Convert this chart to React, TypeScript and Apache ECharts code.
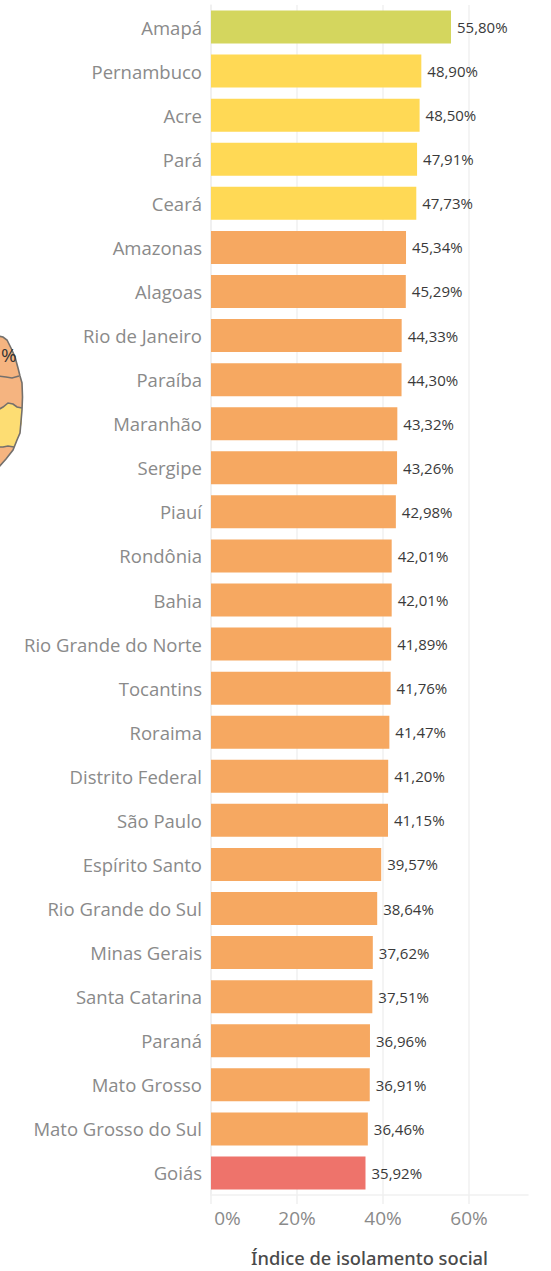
import React, { useEffect, useRef } from "react";
import * as echarts from "echarts";

const categories = ["Amapá","Pernambuco","Acre","Pará","Ceará","Amazonas","Alagoas","Rio de Janeiro","Paraíba","Maranhão","Sergipe","Piauí","Rondônia","Bahia","Rio Grande do Norte","Tocantins","Roraima","Distrito Federal","São Paulo","Espírito Santo","Rio Grande do Sul","Minas Gerais","Santa Catarina","Paraná","Mato Grosso","Mato Grosso do Sul","Goiás"];
const values = [55.80,48.90,48.50,47.91,47.73,45.34,45.29,44.33,44.30,43.32,43.26,42.98,42.01,42.01,41.89,41.76,41.47,41.20,41.15,39.57,38.64,37.62,37.51,36.96,36.91,36.46,35.92];
const GREEN = "#D4D65E", YELLOW = "#FFD955", ORANGE = "#F6A861", RED = "#EE736B";
const barColors = [GREEN,YELLOW,YELLOW,YELLOW,YELLOW,...Array(21).fill(ORANGE),RED];
const axisTicks = [0,20,40,60];

const MAP_OUTLINE = "M-2 336 L3 337 L7 340 L11 348 L15 357 L18 368 L20 376 L22 383 L22.5 397 L22 410 L20 433 L17 440 L13 450 L6 459 L-2 468 Z";
const MAP_YELLOW = "M-2 410 L3 407 L8 403 L13 404 L17 407 L22 408 L22 423 L18 437 L14 447 L8 446 L3 447 L-2 447 Z";
const LINE_1 = "M-2 376 L6 377 L12 378 L19 376";
const LINE_2 = "M-2 410 L3 407 L8 403 L13 404 L17 407 L22 408";
const LINE_3 = "M-2 447 L3 447 L8 446 L14 447";

const pct = (v: number) => v.toFixed(2).replace(".", ",") + "%";

export default function App() {
  const ref = useRef<HTMLDivElement>(null);
  useEffect(() => {
    echarts.graphic.registerShape("mapOutline", echarts.graphic.extendPath(MAP_OUTLINE, {}) as any);
    echarts.graphic.registerShape("mapYellow", echarts.graphic.extendPath(MAP_YELLOW, {}) as any);
    echarts.graphic.registerShape("mapL1", echarts.graphic.extendPath(LINE_1, {}) as any);
    echarts.graphic.registerShape("mapL2", echarts.graphic.extendPath(LINE_2, {}) as any);
    echarts.graphic.registerShape("mapL3", echarts.graphic.extendPath(LINE_3, {}) as any);
    document.body.style.margin = "0";
    const chart = echarts.init(ref.current!, undefined, { renderer: "svg" });
    const edge = { stroke: "#74706c", lineWidth: 1.6, fill: "none" };
    chart.setOption({
      animation: false,
      backgroundColor: "#fff",
      textStyle: { fontFamily: "Open Sans" },
      grid: { left: 211, top: 5, width: 317, height: 1190, containLabel: false },
      xAxis: {
        type: "value", min: 0, max: 73.7, interval: 20,
        axisLine: { show: true, lineStyle: { color: "#f1f1f1", width: 1.5 } },
        axisTick: { show: true, length: 9, customValues: axisTicks, lineStyle: { color: "#efefef", width: 1.5 } },
        splitLine: { show: true, lineStyle: { color: "#f1f1f1", width: 1.5 } },
        axisLabel: {
          margin: 13, color: "#8a8a8a", fontSize: 19, fontFamily: "Open Sans", alignMinLabel: "left",
          customValues: axisTicks,
          formatter: (v: number) => (v === 0 ? "\u2009" : "") + v + "%",
        },
        name: "Índice de isolamento social",
        nameLocation: "middle", nameGap: 53,
        nameTextStyle: { color: "#4a4a4a", fontSize: 18.3, fontWeight: 500, fontFamily: "Noto Sans" },
      },
      yAxis: {
        type: "category", inverse: true, data: categories,
        axisLine: { show: true, lineStyle: { color: "#efefef", width: 1.5 } },
        axisTick: { show: false },
        axisLabel: { margin: 9, color: "#8a8a8a", fontSize: 18.5, fontFamily: "Open Sans" },
      },
      series: [{
        type: "bar",
        data: values.map((v, i) => ({ value: v, itemStyle: { color: barColors[i] } })),
        barWidth: 33,
        label: {
          show: true, position: "right", distance: 6, color: "#3a3a3a", fontSize: 15, fontFamily: "Open Sans",
          formatter: (p: any) => pct(p.value),
        },
      }],
      graphic: [
        { type: "mapOutline", style: { fill: "#F5B480", stroke: "none" } },
        { type: "mapYellow", style: { fill: "#FDDD73", stroke: "none" } },
        { type: "mapOutline", style: edge },
        { type: "mapL1", style: edge },
        { type: "mapL2", style: edge },
        { type: "mapL3", style: edge },
        { type: "text", x: 1, y: 345, style: { text: "%", fill: "#333", fontSize: 19, fontFamily: "Open Sans" } },
      ],
    });
    return () => chart.dispose();
  }, []);
  return <div ref={ref} style={{ position: "absolute", left: 0, top: 0, width: 551, height: 1271 }} />;
}
